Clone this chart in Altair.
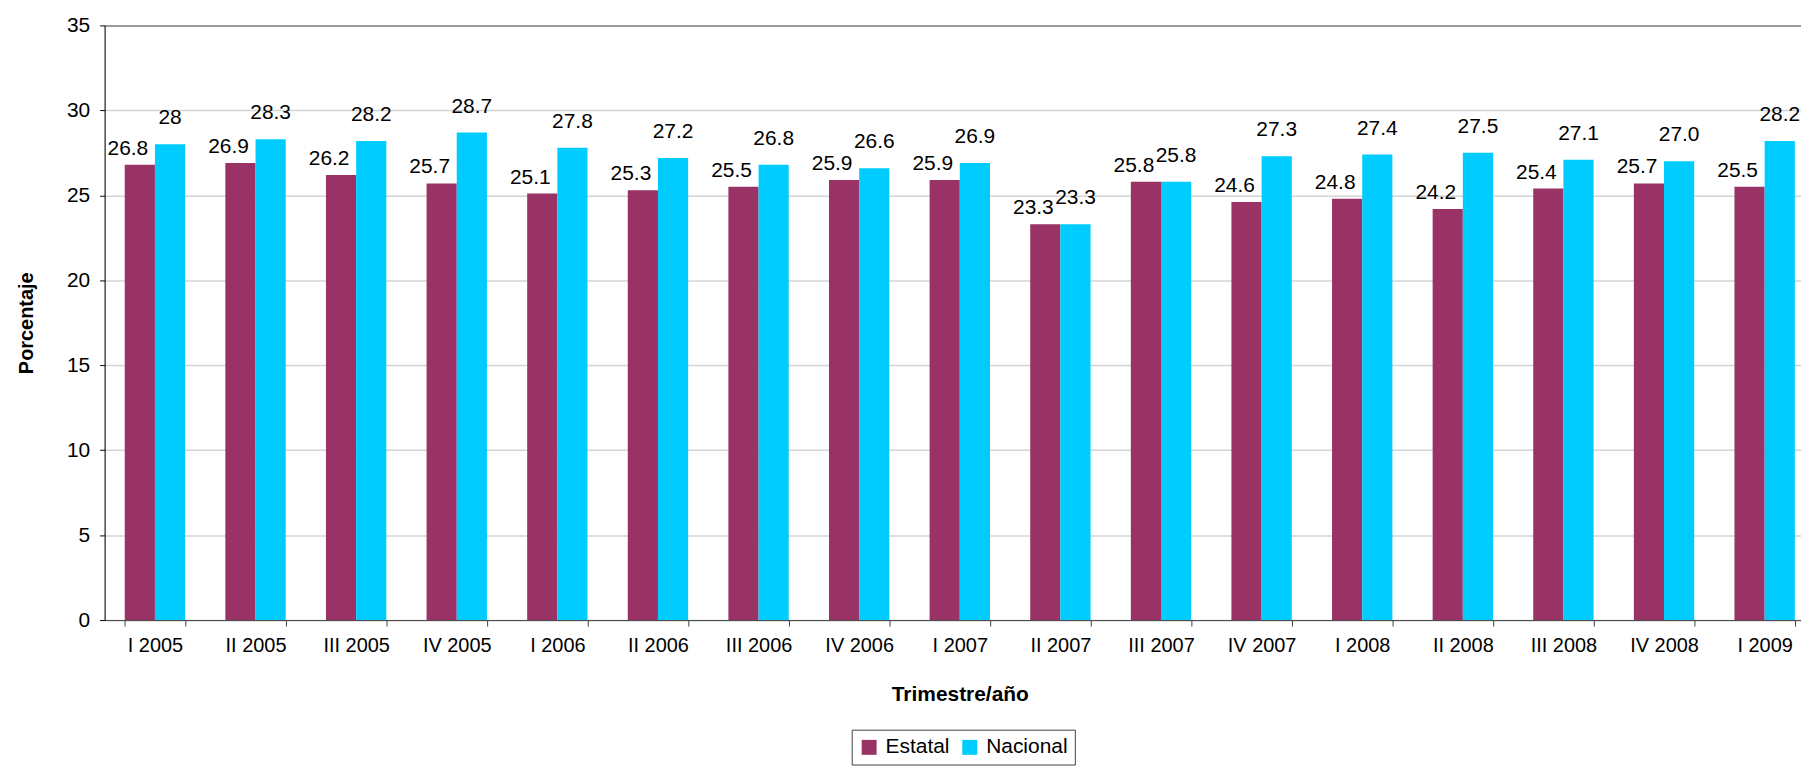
import altair as alt
import pandas as pd

quarters = ["I 2005", "II 2005", "III 2005", "IV 2005", "I 2006", "II 2006", "III 2006",
            "IV 2006", "I 2007", "II 2007", "III 2007", "IV 2007", "I 2008", "II 2008",
            "III 2008", "IV 2008", "I 2009"]
estatal = [26.8, 26.9, 26.2, 25.7, 25.1, 25.3, 25.5, 25.9, 25.9, 23.3, 25.8, 24.6, 24.8,
           24.2, 25.4, 25.7, 25.5]
nacional = [28.0, 28.3, 28.2, 28.7, 27.8, 27.2, 26.8, 26.6, 26.9, 23.3, 25.8, 27.3, 27.4,
            27.5, 27.1, 27.0, 28.2]
estatal_text = ["26.8", "26.9", "26.2", "25.7", "25.1", "25.3", "25.5", "25.9", "25.9",
                "23.3", "25.8", "24.6", "24.8", "24.2", "25.4", "25.7", "25.5"]
nacional_text = ["28", "28.3", "28.2", "28.7", "27.8", "27.2", "26.8", "26.6", "26.9",
                 "23.3", "25.8", "27.3", "27.4", "27.5", "27.1", "27.0", "28.2"]
series = ["Estatal", "Nacional"]
colors = ["#993366", "#00CCFF"]

rows = []
for i, q in enumerate(quarters):
    rows.append({"trimestre": q, "serie": "Estatal", "valor": estatal[i], "texto": estatal_text[i]})
    rows.append({"trimestre": q, "serie": "Nacional", "valor": nacional[i], "texto": nacional_text[i]})
df = pd.DataFrame(rows)

FONT = "Liberation Sans"

x_enc = alt.X(
    "trimestre:N", sort=quarters, title="Trimestre/año",
    scale=alt.Scale(paddingInner=0.4, paddingOuter=0.2),
    axis=alt.Axis(labelAngle=0, tickBand="extent", labelFontSize=20, labelPadding=10,
                  labelColor="black", domainColor="#404040", tickColor="#404040",
                  tickSize=6, titleFontSize=21, titleFontWeight="bold", titlePadding=28,
                  titleColor="black", grid=False),
)
y_enc = alt.Y(
    "valor:Q", title="Porcentaje",
    scale=alt.Scale(domain=[0, 35], nice=False),
    axis=alt.Axis(values=[0, 5, 10, 15, 20, 25, 30, 35], labelFontSize=21, labelPadding=10,
                  labelColor="black", domainColor="black", tickColor="black", tickSize=5,
                  titleFontSize=20, titleFontWeight="bold", titlePadding=30, titleColor="black",
                  grid=True,
                  gridColor=alt.condition("datum.value == 35", alt.value("#808080"), alt.value("#d4d4d4")),
                  gridWidth=1.5),
)
xoff = alt.XOffset("serie:N", sort=series, scale=alt.Scale(paddingInner=0, paddingOuter=0))

base = alt.Chart(df)

bars = base.mark_bar().encode(
    x=x_enc, y=y_enc, xOffset=xoff,
    color=alt.Color("serie:N", sort=series, scale=alt.Scale(domain=series, range=colors),
                    legend=alt.Legend(title=None, orient="none", legendX=750, legendY=707,
                                      direction="horizontal",
                                      symbolType="square", symbolSize=225, symbolStrokeWidth=0,
                                      labelFontSize=21, labelColor="black", labelFont=FONT,
                                      strokeColor="#404040", padding=7, columnPadding=9,
                                      labelOffset=6)),
)

text_est = base.transform_filter(alt.datum.serie == "Estatal").mark_text(
    fontSize=21, font=FONT, color="black", dx=-12, dy=-10, baseline="alphabetic"
).encode(x=alt.X("trimestre:N", sort=quarters), y="valor:Q", xOffset=xoff, text="texto:N")

text_nac = base.transform_filter(alt.datum.serie == "Nacional").mark_text(
    fontSize=21, font=FONT, color="black", dx=0, dy=-20, baseline="alphabetic"
).encode(x=alt.X("trimestre:N", sort=quarters), y="valor:Q", xOffset=xoff, text="texto:N")

chart = alt.layer(bars, text_est, text_nac).properties(
    width=1717, height=597,
    padding={"left": 8, "top": 5, "right": -14, "bottom": 0},
    background="white",
).configure_view(stroke=None).configure(font=FONT)

chart.save("out.html", embed_options={"renderer": "svg", "actions": False})
